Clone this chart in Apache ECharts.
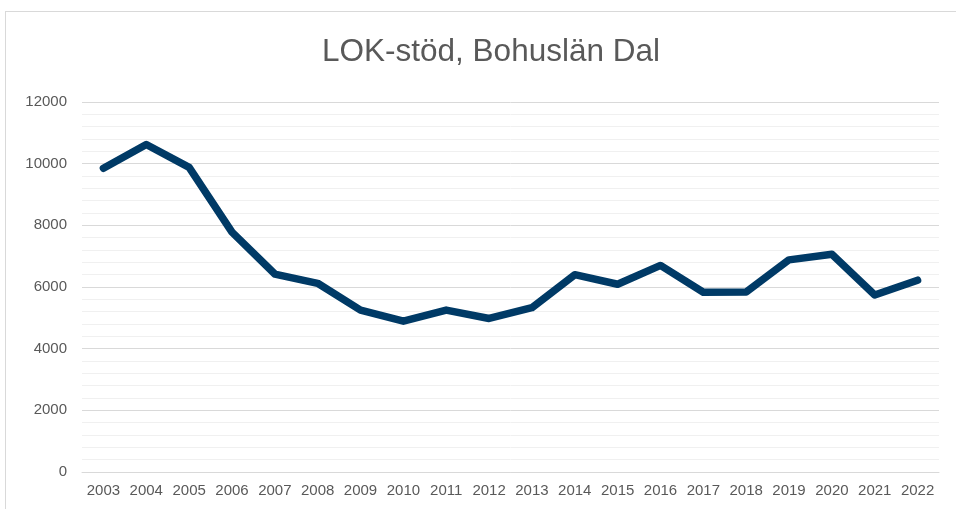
<!DOCTYPE html>
<html>
<head>
<meta charset="utf-8">
<script src="https://cdn.jsdelivr.net/npm/echarts@6/dist/echarts.min.js"></script>
<style>
  html, body { margin: 0; padding: 0; background: #fff; }
  #frame { position: absolute; left: 5px; top: 11px; width: 1000px; height: 560px; border: 1px solid #d9d9d9; box-sizing: border-box; }
  #chart { position: absolute; left: 0; top: 0; width: 956px; height: 509px; }
</style>
</head>
<body>
<div id="frame"></div>
<div id="chart"></div>
<script>
// år och LOK-stöd
const years = ['2003', '2004', '2005', '2006', '2007', '2008', '2009', '2010', '2011', '2012',
  '2013', '2014', '2015', '2016', '2017', '2018', '2019', '2020', '2021', '2022'];
const lokStod = [9850, 10620, 9880, 7780, 6420, 6120, 5250, 4890, 5250, 4980,
  5330, 6400, 6090, 6700, 5830, 5840, 6880, 7060, 5740, 6220];
const yTicks = [0, 2000, 4000, 6000, 8000, 10000, 12000];

const myChart = echarts.init(document.getElementById('chart'));
const option = {
  animation: false,
  title: {
    text: 'LOK-stöd, Bohuslän Dal',
    left: 486,
    textAlign: 'center',
    top: 31,
    textStyle: { fontFamily: 'Liberation Sans', fontSize: 31.5, fontWeight: 'normal', color: '#595959' }
  },
  grid: { left: 82, right: 17, top: 102, bottom: 37 },
  xAxis: {
    type: 'category',
    data: years,
    boundaryGap: true,
    axisLine: { show: true, lineStyle: { color: '#d9d9d9', width: 1 } },
    axisTick: { show: false },
    axisLabel: { color: '#595959', fontFamily: 'Liberation Sans', fontSize: 15, margin: 11, interval: 0 }
  },
  yAxis: {
    type: 'value',
    min: yTicks[0],
    max: yTicks[yTicks.length - 1],
    interval: 2000,
    axisLine: { show: false },
    axisTick: { show: false },
    axisLabel: { color: '#595959', fontFamily: 'Liberation Sans', fontSize: 15, margin: 15, formatter: v => String(v) },
    splitLine: { lineStyle: { color: '#d9d9d9', width: 1 } },
    minorTick: { show: false, splitNumber: 5 },
    minorSplitLine: { show: true, lineStyle: { color: '#f0f0f0', width: 1 } }
  },
  series: [{
    type: 'line',
    data: lokStod,
    showSymbol: false,
    symbol: 'none',
    lineStyle: { color: '#003a66', width: 7.5, cap: 'round', join: 'round' }
  }]
};
myChart.setOption(option);
</script>
</body>
</html>
